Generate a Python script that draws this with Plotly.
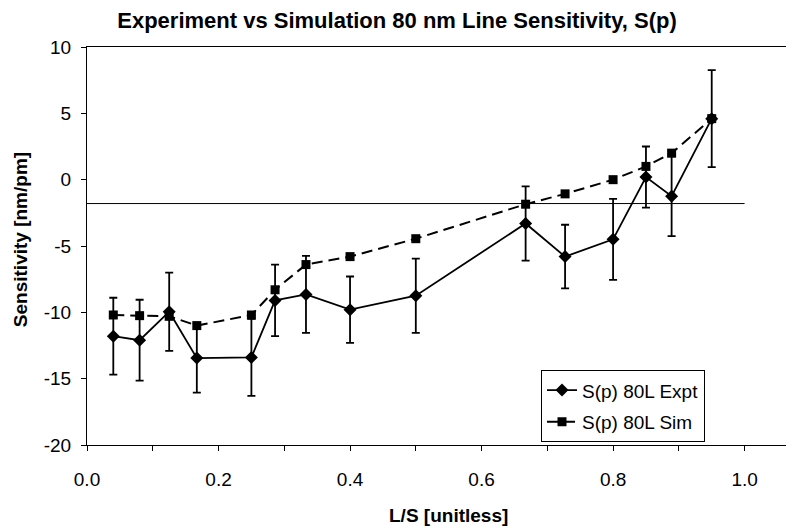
import plotly.graph_objects as go

# Data
ls_ratio = [0.04, 0.08, 0.125, 0.167, 0.25, 0.286, 0.333, 0.4, 0.5, 0.667, 0.727, 0.8, 0.85, 0.889, 0.95]
expt = [-11.8, -12.1, -9.95, -13.45, -13.4, -9.1, -8.65, -9.8, -8.75, -3.3, -5.8, -4.5, 0.2, -1.25, 4.6]
expt_err = [2.9, 3.05, 2.95, 2.6, 2.9, 2.7, 2.9, 2.5, 2.8, 2.8, 2.4, 3.05, 2.3, 3.0, 3.65]
sim = [-10.2, -10.25, -10.3, -11.0, -10.2, -8.3, -6.4, -5.8, -4.45, -1.85, -1.07, 0.0, 1.0, 2.0, 4.6]
ref_x = [0.0, 1.0]
ref_y = [-1.8, -1.8]
y_ticks = [-20, -15, -10, -5, 0, 5, 10]
x_ticks = [0.0, 0.2, 0.4, 0.6, 0.8, 1.0]

FONT = "Liberation Sans, Arial, sans-serif"
W, H = 786, 521          # page body has an 8px margin
L, T = 79, 39
PLOT_W = W - L
PLOT_B = 436.7
PLOT_H = PLOT_B - T

fig = go.Figure()

fig.add_trace(go.Scatter(
    x=ref_x, y=ref_y, mode="lines",
    line=dict(color="black", width=1),
    showlegend=False, hoverinfo="skip",
))

fig.add_trace(go.Scatter(
    x=ls_ratio, y=expt, mode="lines+markers", name="S(p) 80L Expt",
    line=dict(color="black", width=1.8),
    marker=dict(symbol="diamond", size=10, color="black"),
    error_y=dict(type="data", array=expt_err, visible=True,
                 color="black", thickness=1.8, width=4),
    legendgroup="a",
))

fig.add_trace(go.Scatter(
    x=ls_ratio, y=sim, mode="lines+markers", name="S(p) 80L Sim",
    line=dict(color="black", width=2, dash="11px,6px"),
    marker=dict(symbol="square", size=9, color="black"),
    legendgroup="b",
))

fig.update_layout(
    width=W, height=H,
    margin=dict(l=L, r=0, t=T, b=H - PLOT_B),
    paper_bgcolor="white", plot_bgcolor="white",
    font=dict(family=FONT, size=19, color="black"),
    title=dict(text="<b>Experiment vs Simulation 80 nm Line Sensitivity, S(p)</b>",
               x=389 / W, xref="container", xanchor="center",
               y=1 - 12 / H, yref="container", yanchor="middle",
               font=dict(size=22, family=FONT)),
    showlegend=True,
    legend=dict(x=(533 - L) / PLOT_W, y=(PLOT_B - 362) / PLOT_H, xanchor="left", yanchor="top",
                bordercolor="black", borderwidth=1, bgcolor="white",
                font=dict(size=19, family=FONT), tracegroupgap=4,
                itemwidth=30),
    annotations=[
        dict(text="<b>L/S [unitless]</b>", xref="paper", yref="paper",
             x=(440 - L) / PLOT_W, y=-(507 - PLOT_B) / PLOT_H,
             xanchor="center", yanchor="middle", showarrow=False,
             font=dict(size=19, family=FONT)),
        dict(text="<b>Sensitivity [nm/pm]</b>", xref="paper", yref="paper",
             x=(12 - L) / PLOT_W, y=(PLOT_B - 232) / PLOT_H, textangle=-90,
             xanchor="center", yanchor="middle", showarrow=False,
             font=dict(size=19, family=FONT)),
    ],
)

fig.update_xaxes(
    range=[0, PLOT_W / 657.6], tickvals=x_ticks, ticktext=[f"{v:.1f}" for v in x_ticks],
    showline=True, linecolor="black", linewidth=1, mirror=True,
    ticks="outside", ticklen=5, tickcolor="black",
    minor=dict(dtick=0.1, tick0=0, ticks="outside", ticklen=5, tickcolor="black"),
    showgrid=False, zeroline=False, ticklabelstandoff=12,
    tickfont=dict(size=19, family=FONT),
)
fig.update_yaxes(
    range=[-20, 10], tickvals=y_ticks, ticktext=[str(v) for v in y_ticks],
    showline=True, linecolor="black", linewidth=1, mirror=False,
    ticks="outside", ticklen=5, tickcolor="black",
    showgrid=False, zeroline=False, ticklabelstandoff=6,
    tickfont=dict(size=19, family=FONT),
)

fig.write_html("out.html")
